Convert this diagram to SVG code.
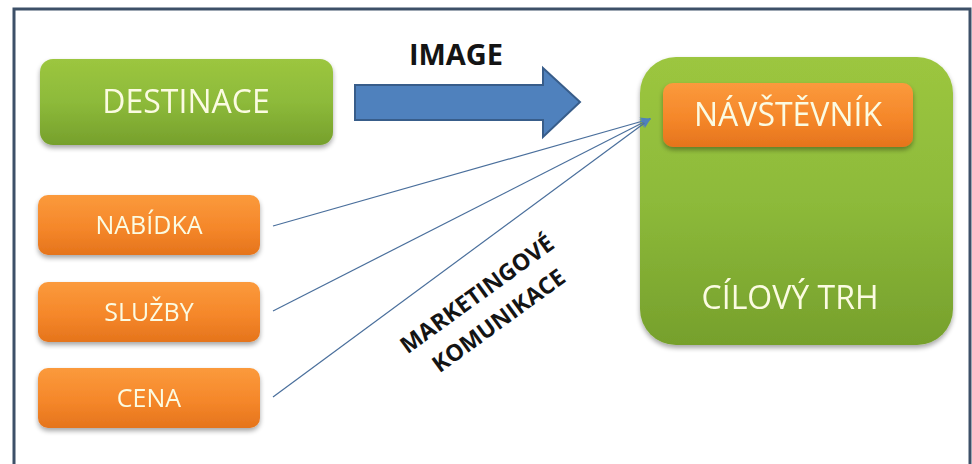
<svg xmlns="http://www.w3.org/2000/svg" width="972" height="464" viewBox="0 0 972 464">
  <defs>
    <linearGradient id="gGreen" x1="0" y1="0" x2="0" y2="1">
      <stop offset="0" stop-color="#9cc63f"/>
      <stop offset="0.5" stop-color="#8dba3a"/>
      <stop offset="1" stop-color="#76a02c"/>
    </linearGradient>
    <linearGradient id="gOrange" x1="0" y1="0" x2="0" y2="1">
      <stop offset="0" stop-color="#fb9a3c"/>
      <stop offset="0.55" stop-color="#f5872a"/>
      <stop offset="1" stop-color="#e5741c"/>
    </linearGradient>
    <filter id="shadow" x="-10%" y="-10%" width="120%" height="130%">
      <feGaussianBlur in="SourceAlpha" stdDeviation="2.5"/>
      <feOffset dx="0" dy="3" result="b"/>
      <feComponentTransfer><feFuncA type="linear" slope="0.35"/></feComponentTransfer>
      <feMerge><feMergeNode/><feMergeNode in="SourceGraphic"/></feMerge>
    </filter>
    <marker id="head" viewBox="0 0 10 10" refX="9" refY="5" markerWidth="11" markerHeight="11" orient="auto" markerUnits="userSpaceOnUse">
      <path d="M0,1 L10,5 L0,9 L3,5 Z" fill="#4f81bd"/>
    </marker>
  </defs>
  <style>
    .lbl { font-family: "Open Sans", "Liberation Sans", sans-serif; font-weight: 500; fill: #fbfbe2; text-anchor: middle; }
    .big { font-size: 32px; }
    .small { font-size: 25px; }
    .dark { font-family: "Open Sans", "Liberation Sans", sans-serif; font-weight: bold; fill: #141414; text-anchor: middle; }
    .link { fill: none; stroke: #4a6f9c; stroke-width: 1.2; marker-end: url(#head); }
  </style>

  <!-- page frame -->
  <rect x="0" y="0" width="972" height="464" fill="#ffffff"/>
  <rect x="14" y="9" width="956" height="460" fill="none" stroke="#3d5068" stroke-width="3"/>

  <!-- destination -->
  <g id="destinace" filter="url(#shadow)">
    <rect x="40" y="59" width="293" height="86" rx="13" fill="url(#gGreen)"/>
    <text class="lbl big" x="186" y="113">DESTINACE</text>
  </g>

  <!-- offer items -->
  <g id="nabidka" filter="url(#shadow)">
    <rect x="38" y="195" width="222" height="60" rx="10" fill="url(#gOrange)"/>
    <text class="lbl small" x="149" y="234">NABÍDKA</text>
  </g>
  <g id="sluzby" filter="url(#shadow)">
    <rect x="38" y="282" width="222" height="60" rx="10" fill="url(#gOrange)"/>
    <text class="lbl small" x="149" y="321">SLUŽBY</text>
  </g>
  <g id="cena" filter="url(#shadow)">
    <rect x="38" y="368" width="222" height="60" rx="10" fill="url(#gOrange)"/>
    <text class="lbl small" x="149" y="407">CENA</text>
  </g>

  <!-- target market with visitor -->
  <g id="cilovy-trh" filter="url(#shadow)">
    <rect x="640" y="57" width="313" height="288" rx="36" fill="url(#gGreen)"/>
    <text class="lbl big" x="790" y="309">CÍLOVÝ TRH</text>
  </g>
  <g id="navstevnik" filter="url(#shadow)">
    <rect x="663" y="83" width="250" height="64" rx="10" fill="url(#gOrange)"/>
    <text class="lbl big" x="788" y="126">NÁVŠTĚVNÍK</text>
  </g>

  <!-- connectors, drawn last so the arrowheads sit on the target box -->
  <g id="connectors">
    <g id="image-arrow">
      <path d="M355,85 H543 V68 L580,102 L543,137 V120 H355 Z" fill="#4f81bd" stroke="#385d8a" stroke-width="2"/>
      <text class="dark" x="456" y="65" font-size="29">IMAGE</text>
    </g>
    <path class="link" d="M273,226 L650,119"/>
    <path class="link" d="M273,311 L650,119"/>
    <path class="link" d="M273,397 L650,119"/>
    <g id="marketing-label" transform="translate(487,308) rotate(-36)">
      <text class="dark" x="0" y="-9" font-size="23">MARKETINGOVÉ</text>
      <text class="dark" x="2" y="25" font-size="23">KOMUNIKACE</text>
    </g>
  </g>
</svg>
